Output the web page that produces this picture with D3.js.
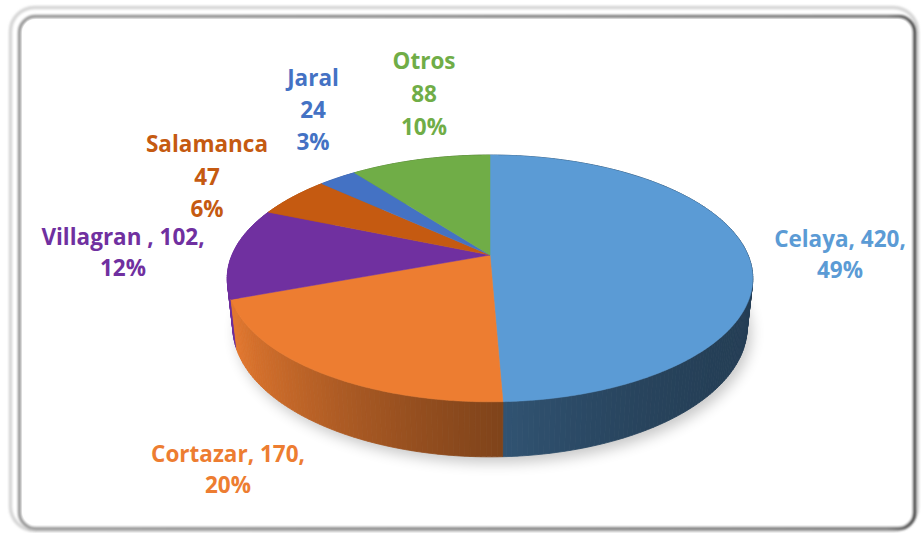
<!DOCTYPE html>
<html><head><meta charset="utf-8">
<script src="https://cdn.jsdelivr.net/npm/d3@7"></script>
<style>body{margin:0;background:#fff}svg{display:block}</style>
</head><body><svg id="c" width="924" height="533"></svg>
<script>
// ---- data ----
const categories = ["Celaya", "Cortazar", "Villagran ", "Salamanca", "Jaral", "Otros"];
const values = [420, 170, 102, 47, 24, 88];
const colors = ["#5B9BD5", "#ED7D31", "#7030A0", "#C55A11", "#4472C4", "#70AD47"];
const labelStyle = ["inline", "inline", "inline", "stacked", "stacked", "stacked"];

// ---- layout ----
const W = 924, H = 533;
const svg = d3.select("#c");
const defs = svg.append("defs");
const cx = 490, cy = 255, R = 258, sinP = 0.461, cosP = Math.sqrt(1 - sinP * sinP), F = 1205, DEPTH = 55;
const labelAnchor = [[840, 247], [228, 462], [123, 245], [207, 152], [313, 86], [424, 69]];
const lineGap = [31, 31, 31, 32.5, 32, 33];

function project(theta, r, h) {
  const u = r * Math.sin(theta), v = -r * Math.cos(theta);
  const yp = v * sinP + h * cosP, zp = v * cosP - h * sinP;
  const s = F / (F - zp);
  return [cx + s * u, cy + s * yp];
}

// frame
const fg = defs.append("linearGradient").attr("id", "frameG").attr("x1", 0).attr("x2", 1).attr("y1", 0).attr("y2", 0);
fg.append("stop").attr("offset", 0).attr("stop-color", "#9a9a9a");
fg.append("stop").attr("offset", 0.97).attr("stop-color", "#7a7a7a");
fg.append("stop").attr("offset", 1).attr("stop-color", "#4a4a4a");
const blur1 = defs.append("filter").attr("id", "b1").attr("x", -0.05).attr("y", -0.05).attr("width", 1.1).attr("height", 1.1);
blur1.append("feGaussianBlur").attr("stdDeviation", 1.2);
svg.append("rect").attr("x", 10.5).attr("y", 7.5).attr("width", 907).attr("height", 523).attr("rx", 24)
  .attr("fill", "none").attr("stroke", "#d6d6d6").attr("stroke-width", 3.5).attr("filter", "url(#b1)");
svg.append("rect").attr("x", 19.5).attr("y", 16.5).attr("width", 895).attr("height", 512).attr("rx", 16)
  .attr("fill", "#fff").attr("stroke", "url(#frameG)").attr("stroke-width", 3.5).attr("filter", "url(#b1)");
svg.append("rect").attr("x", 22).attr("y", 19).attr("width", 889).attr("height", 506).attr("rx", 14).attr("fill", "#fff");

// pie
const total = d3.sum(values);
const arcs = d3.pie().sort(null).startAngle(0).endAngle(2 * Math.PI)(values);
const pctFmt = d => d3.format(".0%")(d / total);

// shadow
const sh = defs.append("filter").attr("id", "sh").attr("x", -0.2).attr("y", -0.2).attr("width", 1.4).attr("height", 1.4);
sh.append("feGaussianBlur").attr("stdDeviation", 7);
const bottomPts = d3.range(0, 361, 2).map(a => project(a * Math.PI / 180, R, DEPTH));
svg.append("path").attr("d", d3.line()(bottomPts) + "Z").attr("fill", "#000").attr("opacity", 0.22)
  .attr("transform", "translate(4,6)").attr("filter", "url(#sh)");

function shade(theta) {
  const t = (1 - Math.sin(theta)) / 2;
  return 0.4 + 0.6 * t * t;
}
function shadeColor(c, f) {
  const rgb = d3.rgb(c);
  if (f <= 1) return d3.rgb(rgb.r * f, rgb.g * f, rgb.b * f).formatHex();
  const k = f - 1;
  return d3.rgb(rgb.r + (255 - rgb.r) * k, rgb.g + (255 - rgb.g) * k, rgb.b + (255 - rgb.b) * k).formatHex();
}

// side walls
const segs = [];
arcs.forEach((a, i) => {
  const step = Math.PI / 180;
  for (let t = a.startAngle; t < a.endAngle - 1e-9; t += step) {
    const t2 = Math.min(t + step, a.endAngle);
    const mid = (t + t2) / 2;
    segs.push({ i, t, t2, v: -Math.cos(mid), color: shadeColor(colors[i], shade(mid)) });
  }
});
segs.sort((a, b) => a.v - b.v);
svg.append("g").selectAll("path").data(segs).join("path")
  .attr("d", s => d3.line()([project(s.t, R, 0), project(s.t2, R, 0), project(s.t2, R, DEPTH), project(s.t, R, DEPTH)]) + "Z")
  .attr("fill", s => s.color).attr("stroke", s => s.color).attr("stroke-width", 0.8);

// top faces
function topPath(a) {
  const n = Math.max(2, Math.ceil((a.endAngle - a.startAngle) / (Math.PI / 360)));
  const pts = [[cx, cy]];
  for (let k = 0; k <= n; k++) pts.push(project(a.startAngle + (a.endAngle - a.startAngle) * k / n, R, 0));
  return d3.line()(pts) + "Z";
}
svg.append("g").selectAll("path").data(arcs).join("path")
  .attr("d", topPath).attr("fill", (d, i) => colors[i]).attr("stroke", (d, i) => colors[i]).attr("stroke-width", 0.5);

// labels
const lg = svg.append("g").attr("font-family", "'Open Sans', Lato, sans-serif").attr("font-weight", "bold")
  .attr("font-size", 22.5).attr("text-anchor", "middle");
arcs.forEach((a, i) => {
  const v = values[i], p = pctFmt(v);
  const lines = labelStyle[i] === "inline"
    ? [categories[i] + ", " + v + ",", p]
    : [categories[i], String(v), p];
  const t = lg.append("text").attr("fill", colors[i]);
  lines.forEach((ln, k) => t.append("tspan").attr("x", labelAnchor[i][0]).attr("y", labelAnchor[i][1] + k * lineGap[i]).text(ln));
});
</script></body></html>
